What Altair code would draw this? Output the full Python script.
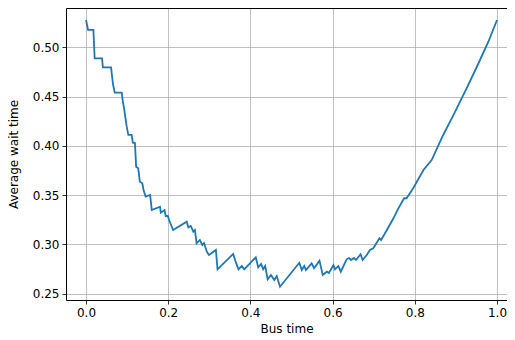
import altair as alt
import pandas as pd

bus_time = [0.000, 0.005, 0.018, 0.021, 0.039, 0.041, 0.061, 0.063, 0.066, 0.070,
            0.087, 0.089, 0.093, 0.096, 0.099, 0.103, 0.111, 0.114, 0.119, 0.122,
            0.127, 0.131, 0.137, 0.140, 0.145, 0.156, 0.160, 0.180, 0.182, 0.191,
            0.194, 0.199, 0.202, 0.212, 0.245, 0.249, 0.255, 0.261, 0.265, 0.269,
            0.277, 0.283, 0.287, 0.294, 0.299, 0.316, 0.320, 0.358, 0.364, 0.371,
            0.379, 0.385, 0.413, 0.419, 0.426, 0.431, 0.436, 0.442, 0.450, 0.458,
            0.464, 0.472, 0.519, 0.525, 0.531, 0.535, 0.549, 0.555, 0.568, 0.576,
            0.586, 0.591, 0.602, 0.606, 0.614, 0.620, 0.634, 0.640, 0.645, 0.652,
            0.657, 0.668, 0.673, 0.683, 0.691, 0.699, 0.714, 0.718, 0.732, 0.748,
            0.760, 0.774, 0.780, 0.796, 0.821, 0.841, 0.869, 0.894, 0.926, 0.951,
            0.979, 1.000]
avg_wait = [0.5277, 0.5177, 0.5177, 0.4888, 0.4888, 0.4797, 0.4797, 0.4719, 0.4618, 0.4540,
            0.4540, 0.4466, 0.4371, 0.4283, 0.4195, 0.4111, 0.4111, 0.4032, 0.4029, 0.3789,
            0.3773, 0.3637, 0.3621, 0.3553, 0.3485, 0.3502, 0.3350, 0.3383, 0.3323, 0.3350,
            0.3289, 0.3289, 0.3248, 0.3147, 0.3231, 0.3174, 0.3188, 0.3130, 0.3147, 0.3012,
            0.3046, 0.2995, 0.3015, 0.2927, 0.2893, 0.2944, 0.2748, 0.2904, 0.2826, 0.2748,
            0.2782, 0.2748, 0.2870, 0.2769, 0.2802, 0.2748, 0.2782, 0.2647, 0.2691, 0.2640,
            0.2680, 0.2572, 0.2815, 0.2741, 0.2782, 0.2741, 0.2809, 0.2759, 0.2836, 0.2691,
            0.2724, 0.2711, 0.2792, 0.2748, 0.2782, 0.2724, 0.2850, 0.2863, 0.2843, 0.2863,
            0.2843, 0.2901, 0.2843, 0.2893, 0.2944, 0.2961, 0.3063, 0.3046, 0.3147, 0.3266,
            0.3367, 0.3469, 0.3469, 0.3570, 0.3756, 0.3857, 0.4111, 0.4313, 0.4584, 0.4803,
            0.5057, 0.5277]

x_ticks = [0.0, 0.2, 0.4, 0.6, 0.8, 1.0]
y_ticks = [0.25, 0.30, 0.35, 0.40, 0.45, 0.50]

df = pd.DataFrame({"Bus time": bus_time, "Average wait time": avg_wait,
                   "idx": list(range(len(bus_time)))})

FONT = "DejaVu Sans"
xscale = alt.Scale(domain=[-0.0487, 1.0243], nice=False, zero=False)
yscale = alt.Scale(domain=[0.2437, 0.5399], nice=False, zero=False)

line = alt.Chart(df).mark_line(color="#1f77b4", strokeWidth=1.8, clip=True).encode(
    x=alt.X("Bus time:Q", scale=xscale,
            axis=alt.Axis(values=x_ticks, format=".1f", title="Bus time", titlePadding=5)),
    y=alt.Y("Average wait time:Q", scale=yscale,
            axis=alt.Axis(values=y_ticks, format=".2f", title="Average wait time", titlePadding=12)),
    order="idx:Q",
)

top_frame = alt.Chart(df).mark_line(opacity=0).encode(
    x=alt.X("Bus time:Q", scale=xscale,
            axis=alt.Axis(orient="top", labels=False, ticks=False, grid=False, title=None,
                          domain=True)),
    y=alt.Y("Average wait time:Q", scale=yscale, axis=None),
    order="idx:Q",
)

chart = alt.layer(line, top_frame).resolve_axis(x="independent", y="independent").properties(
    width=441, height=292,
    autosize=alt.AutoSizeParams(type="none"),
    padding={"left": 58, "top": 0, "right": 0, "bottom": 36},
).configure_axis(
    grid=True, gridColor="#b0b0b0", gridWidth=0.8, gridOpacity=1,
    domainColor="black", domainWidth=1, tickColor="black", tickSize=4, tickWidth=0.8,
    labelFont=FONT, labelFontSize=12, labelColor="black", labelPadding=3,
    titleFont=FONT, titleFontSize=12, titleFontWeight="normal", titleColor="black",
).configure_view(stroke=None)

chart.save("out.html", embed_options={"renderer": "svg", "actions": False})
